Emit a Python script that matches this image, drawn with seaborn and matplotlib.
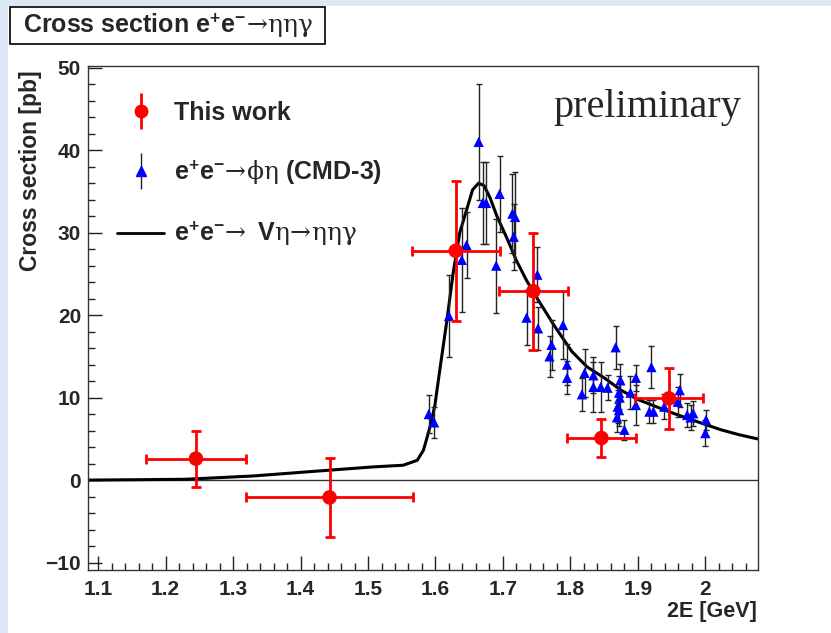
import matplotlib
matplotlib.use("Agg")
import matplotlib.pyplot as plt
import seaborn as sns
from matplotlib.lines import Line2D
from matplotlib.patches import Rectangle
from matplotlib.ticker import MultipleLocator

# ---------------- data ----------------
# This work (red points)
work_x = [1.245, 1.443, 1.630, 1.745, 1.846, 1.946]
work_xerr = [0.074, 0.124, 0.065, 0.051, 0.051, 0.050]
work_y = [2.6, -2.1, 27.8, 22.9, 5.1, 9.9]
work_yerr = [3.4, 4.8, 8.5, 7.1, 2.3, 3.7]

# CMD-3 e+e- -> phi eta (blue triangles)
cmd_x = [1.590, 1.598, 1.620, 1.639, 1.646, 1.664, 1.670, 1.675, 1.690, 1.695,
         1.714, 1.718, 1.716, 1.735, 1.751, 1.752, 1.772, 1.769, 1.789, 1.795,
         1.795, 1.817, 1.821, 1.834, 1.834, 1.845, 1.855, 1.867, 1.874, 1.872,
         1.873, 1.870, 1.872, 1.869, 1.880, 1.897, 1.897, 1.889, 1.920, 1.917,
         1.923, 1.939, 1.962, 1.959, 1.973, 1.982, 1.978, 2.001, 2.000]
cmd_y = [8.0, 7.0, 19.9, 26.7, 28.5, 41.0, 33.6, 33.6, 26.0, 34.7,
         32.3, 31.9, 29.5, 19.7, 24.9, 18.4, 16.4, 15.0, 18.8, 14.0,
         12.4, 10.4, 13.0, 12.7, 11.3, 11.3, 11.2, 16.1, 12.1, 10.6,
         10.0, 8.9, 8.5, 7.6, 6.1, 12.4, 9.1, 10.6, 13.7, 8.3,
         8.3, 8.9, 10.9, 9.5, 7.9, 8.1, 7.6, 7.3, 5.7]
cmd_yerr = [2.3, 1.9, 5.0, 6.3, 4.0, 7.0, 5.0, 5.0, 5.7, 4.6,
            4.8, 5.5, 4.0, 3.3, 3.3, 2.6, 3.0, 2.5, 4.1, 2.5,
            2.0, 2.0, 2.9, 2.2, 3.0, 3.0, 1.5, 2.6, 2.0, 2.0,
            2.0, 2.0, 2.0, 1.8, 1.2, 1.6, 2.4, 2.0, 2.5, 1.4,
            1.4, 1.5, 2.0, 1.8, 1.5, 1.5, 1.5, 1.2, 1.6]

# model curve e+e- -> V eta -> eta eta gamma
curve_x = [1.085, 1.164, 1.230, 1.330, 1.410, 1.508, 1.552, 1.573, 1.582, 1.587,
           1.592, 1.599, 1.607, 1.617, 1.626, 1.636, 1.647, 1.655, 1.664, 1.672,
           1.681, 1.691, 1.706, 1.720, 1.735, 1.751, 1.777, 1.802, 1.825, 1.850,
           1.875, 1.899, 1.924, 1.949, 1.973, 1.998, 2.023, 2.050, 2.077]
curve_y = [0.0, 0.05, 0.1, 0.5, 1.0, 1.6, 1.8, 2.4, 3.6, 5.0,
           6.5, 9.0, 13.7, 19.4, 25.0, 30.0, 33.0, 35.2, 36.0, 35.7,
           34.2, 32.0, 29.3, 26.6, 24.2, 22.0, 18.6, 15.6, 13.7, 12.4,
           10.9, 9.8, 9.0, 8.2, 7.5, 6.8, 6.1, 5.5, 5.0]

x_ticks = [1.1, 1.2, 1.3, 1.4, 1.5, 1.6, 1.7, 1.8, 1.9, 2.0]
x_ticklabels = ["1.1", "1.2", "1.3", "1.4", "1.5", "1.6", "1.7", "1.8", "1.9", "2"]
y_ticks = [-10, 0, 10, 20, 30, 40, 50]

title = (r"Cross section e$^{\mathbf{+}}$e$^{\mathbf{-}}$"
         r"$\mathrm{\!\rightarrow\!\eta\eta\gamma}$")
lab_work = "This work"
lab_cmd = (r"e$^{\mathbf{+}}$e$^{\mathbf{-}}$$\mathrm{\!\rightarrow\!\phi\eta}$ (CMD-3)")
lab_model = (r"e$^{\mathbf{+}}$e$^{\mathbf{-}}$$\mathrm{\!\rightarrow}$ V"
             r"$\mathrm{\eta\!\rightarrow\!\eta\eta\gamma}$")

# ---------------- style ----------------
sns.set_theme(style="ticks")
plt.rcParams["font.family"] = ["Liberation Sans", "DejaVu Sans"]
plt.rcParams.update({
    "mathtext.fontset": "custom",
    "mathtext.rm": "DejaVu Serif",
    "mathtext.it": "DejaVu Serif:italic",
    "mathtext.bf": "Liberation Sans:bold",
    "mathtext.sf": "Liberation Sans",
    "mathtext.default": "rm",
})

W, H = 831, 633
fig = plt.figure(figsize=(W / 100, H / 100), dpi=100, facecolor="#dce8f5")
fig.patches.append(Rectangle((8 / W, 0), 1, 1 - 6 / H, transform=fig.transFigure,
                             facecolor="white", edgecolor="none", zorder=-10))

ax = fig.add_axes([88 / W, 1 - 570 / H, (758 - 88) / W, (570 - 66) / H])
ax.set_zorder(2)
ax.set_facecolor("white")

ax.axhline(0, color="#333333", lw=1.0, zorder=1)

sns.lineplot(x=curve_x, y=curve_y, color="black", lw=2.2, sort=False, ax=ax, zorder=2)

ax.errorbar(cmd_x, cmd_y, yerr=cmd_yerr, fmt="none", ecolor="#222222",
            elinewidth=1.0, capsize=2.5, capthick=1.0, zorder=3)
sns.scatterplot(x=cmd_x, y=cmd_y, marker="^", color="blue", s=55,
                edgecolor="none", linewidth=0, ax=ax, zorder=4)

ax.errorbar(work_x, work_y, xerr=work_xerr, yerr=work_yerr, fmt="none",
            ecolor="red", elinewidth=2.0, capsize=3.5, capthick=2.0, zorder=5)
sns.scatterplot(x=work_x, y=work_y, marker="o", color="red", s=110,
                edgecolor="none", linewidth=0, ax=ax, zorder=6)

ax.set_xlim(1.085, 2.078)
ax.set_ylim(-10.9, 50.2)
ax.set_xticks(x_ticks)
ax.set_xticklabels(x_ticklabels)
ax.set_yticks(y_ticks)
ax.xaxis.set_minor_locator(MultipleLocator(0.02))
ax.yaxis.set_minor_locator(MultipleLocator(2))
ax.tick_params(which="both", direction="in", color="#222222", width=1.0,
               top=False, right=False, labelsize=15)
ax.tick_params(axis="x", which="major", length=10, pad=7)
ax.tick_params(axis="y", which="major", length=10, pad=5)
ax.tick_params(which="minor", length=5)
for lab in ax.get_xticklabels() + ax.get_yticklabels():
    lab.set_fontweight("bold")
for sp in ax.spines.values():
    sp.set_color("#333333")
    sp.set_linewidth(1.0)
ax.set_xlabel("")
ax.set_ylabel("")

# legend
h1 = (Line2D([], [], marker="|", markersize=26, mew=2.0, color="red", ls="none"),
      Line2D([], [], marker="o", markersize=9, color="red", ls="none"))
h2 = (Line2D([], [], marker="|", markersize=26, mew=1.0, color="#222222", ls="none"),
      Line2D([], [], marker="^", markersize=7, color="blue", ls="none"))
h3 = Line2D([], [], color="black", lw=2.0)
ax.legend([h1, h2, h3], [lab_work, lab_cmd, lab_model], loc="upper left",
          bbox_to_anchor=(0.043, 0.931), frameon=False, borderpad=0,
          borderaxespad=0, handlelength=1.9, handletextpad=0.4,
          labelspacing=1.33, prop={"weight": "bold", "size": 18})

# texts
fig.text(553 / W, 1 - 108 / H, "preliminary", family="Liberation Serif",
         fontsize=29, va="center", ha="left")
fig.text(31 / W, 1 - 70 / H, "Cross section [pb]", rotation=90, ha="center",
         va="top", fontsize=16.5, fontweight="bold")
fig.text(757 / W, 1 - 612 / H, "2E [GeV]", ha="right", va="center",
         fontsize=15.5, fontweight="bold")

fig.patches.append(Rectangle((10 / W, 1 - 44 / H), 315 / W, 37 / H,
                             transform=fig.transFigure, facecolor="white",
                             edgecolor="black", lw=1.2, zorder=1))
fig.text(23 / W, 1 - 26 / H, title, fontsize=18, fontweight="bold",
         ha="left", va="center", zorder=2)

fig.savefig("out.png", dpi=100, facecolor=fig.get_facecolor())
